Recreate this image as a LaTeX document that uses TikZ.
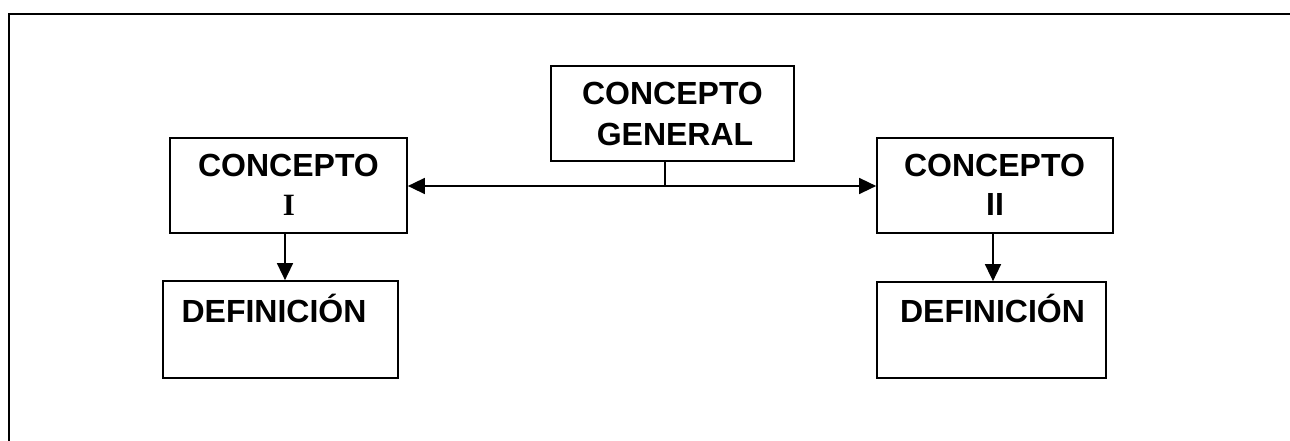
\documentclass[tikz,border=0pt]{standalone}
\usepackage{fontspec}
\setmainfont{Liberation Sans}
\newfontfamily\serifbold{Liberation Serif}
\usetikzlibrary{arrows.meta,calc}
\tikzset{
  box/.style={draw=black, line width=1.7pt, rectangle, inner sep=0pt},
  lbl/.style={inner sep=0pt, anchor=base, font=\fontsize{32}{36}\selectfont\bfseries},
  conn/.style={line width=1.5pt},
  arr/.style={conn, -{Triangle[length=17pt,width=16pt]}},
  darr/.style={conn, {Triangle[length=17pt,width=16pt]}-{Triangle[length=17pt,width=16pt]}},
  frame/.style={line width=2.4pt}
}
\begin{document}
\begin{tikzpicture}[x=1pt,y=1pt]
\useasboundingbox (0,0) rectangle (1290,441);
% frame (top and left edges visible)
\coordinate (fc) at (9,427);
\coordinate (fr) at (1292,427);
\coordinate (fb) at (9,-2);
\draw[frame] (fr) -- (fc) -- (fb);
% boxes
\node[box, minimum width=243pt, minimum height=95pt] (gen) at (672.5,327.5) {};
\node[box, minimum width=237pt, minimum height=95pt] (c1) at (288.5,255.5) {};
\node[box, minimum width=236pt, minimum height=95pt] (c2) at (995,255.5) {};
\node[box, minimum width=235pt, minimum height=97pt] (d1) at (280.5,111.5) {};
\node[box, minimum width=229pt, minimum height=96pt] (d2) at (991.5,111) {};
% texts
\node[lbl] (t1) at (672.5,336) {CONCEPTO};
\node[lbl] (t2) at (675,295) {GENERAL};
\node[lbl] (t3) at (288.5,264) {CONCEPTO};
\node[lbl, font=\fontsize{31}{36}\selectfont\serifbold\bfseries] (t4) at (289,225) {I};
\node[lbl] (t5) at (994.5,264) {CONCEPTO};
\node[lbl] (t6) at (995,225) {II};
\node[lbl] (t7) at (274,118) {DEFINICIÓN};
\node[lbl] (t8) at (992.5,118) {DEFINICIÓN};
% connectors
\coordinate (j) at (665,255);
\draw[conn] (gen.south -| j) -- (j);
\draw[darr] (c1.east |- j) -- (c2.west |- j);
\draw[arr] ([xshift=-3.5pt]c1.south) -- ([xshift=-3.5pt]c1.south |- d1.north);
\draw[arr] ([xshift=-2pt]c2.south) -- ([xshift=-2pt]c2.south |- d2.north);
\end{tikzpicture}
\end{document}
